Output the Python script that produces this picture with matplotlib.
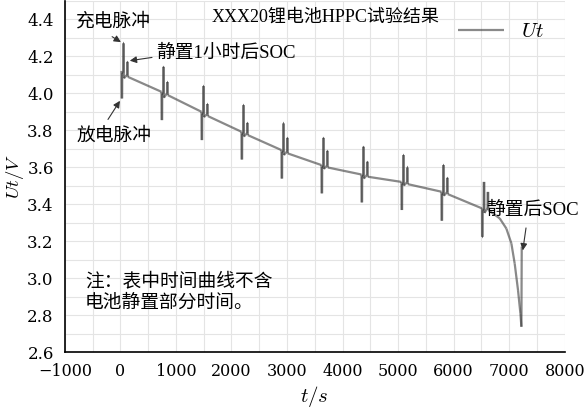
import matplotlib
matplotlib.use('Agg')
import matplotlib.pyplot as plt
from matplotlib.ticker import MultipleLocator
from matplotlib.collections import LineCollection

plt.rcParams['font.family'] = ['Liberation Serif', 'Noto Sans CJK SC', 'DejaVu Sans']
plt.rcParams['mathtext.fontset'] = 'cm'

# pulse start times (s) and voltages
pulse_t = [20, 740, 1460, 2180, 2900, 3620, 4340, 5060, 5780, 6510]
v_in = [4.12, 4.007, 3.899, 3.791, 3.692, 3.611, 3.560, 3.520, 3.467, 3.377]
v_dip = [4.08, 3.975, 3.870, 3.765, 3.665, 3.590, 3.538, 3.500, 3.445, 3.352]
v_dis = [3.971, 3.854, 3.746, 3.641, 3.538, 3.458, 3.409, 3.368, 3.310, 3.223]
v_chg = [4.269, 4.142, 4.038, 3.935, 3.836, 3.758, 3.710, 3.665, 3.611, 3.520]
v_small = [4.169, 4.060, 3.941, 3.839, 3.758, 3.688, 3.629, 3.598, 3.542, 3.466]
v_after = [4.088, 3.989, 3.876, 3.773, 3.674, 3.598, 3.548, 3.508, 3.454, 3.368]

# last discharge to cut-off, then rest
tail_t = [6829, 6949, 7039, 7099, 7159, 7202, 7220, 7226]
tail_v = [3.323, 3.268, 3.188, 3.079, 2.935, 2.809, 2.737, 3.170]

# build the time series
t, v = [], []
for i, tp in enumerate(pulse_t):
    t += [tp, tp + 2, tp + 12, tp + 14, tp + 30, tp + 32, tp + 42, tp + 44,
          tp + 100, tp + 102, tp + 112, tp + 114]
    v += [v_in[i], v_dis[i], v_dis[i], v_in[i] - 0.01, v_in[i] - 0.01, v_chg[i],
          v_chg[i], v_dip[i], v_after[i] + 0.01, v_small[i], v_small[i], v_after[i]]
t += tail_t
v += tail_v

segs = [[(t[k], v[k]), (t[k + 1], v[k + 1])] for k in range(len(t) - 1)]

fig = plt.figure(figsize=(5.84, 4.08), dpi=100)
ax = fig.add_axes([0.111, 0.137, 0.856, 0.8615])

lc = LineCollection(segs, colors='#3a3a3a', alpha=0.6, linewidths=1.6,
                    capstyle='butt', label='$Ut$')
ax.add_collection(lc)

ax.set_xlim(-1000, 8000)
ax.set_ylim(2.6, 4.5)
ax.xaxis.set_major_locator(MultipleLocator(1000))
ax.xaxis.set_minor_locator(MultipleLocator(500))
ax.yaxis.set_minor_locator(MultipleLocator(0.1))
ax.grid(which='both', color='#e4e4e4', lw=0.8)
ax.set_axisbelow(True)
ax.tick_params(which='both', length=0, labelsize=11.5, pad=8)
for lab in ax.get_xticklabels():
    lab.set_fontfamily('DejaVu Serif')
ax.set_yticks([2.6, 2.8, 3.0, 3.2, 3.4, 3.6, 3.8, 4.0, 4.2, 4.4])
ax.set_yticklabels(['2.6', '2.8', '3.0', '3.2', '3.4', '3.6', '3.8', '4.0', '4.2', '4.4'],
                   fontfamily='DejaVu Serif', fontsize=12)
for s in ['top', 'right']:
    ax.spines[s].set_visible(False)
for s in ['left', 'bottom']:
    ax.spines[s].set_linewidth(1.2)

ax.set_xlabel('$t/\\mathit{s}$', fontsize=15, labelpad=3)
ax.set_ylabel('$Ut/V$', fontsize=13.5, labelpad=1)

ax.text(3700, 4.41, 'XXX20锂电池HPPC试验结果', fontsize=13, ha='center', va='center')
ax.legend(loc='upper right', bbox_to_anchor=(0.958, 0.937), frameon=False,
          fontsize=15, handlelength=2.2, borderpad=0, borderaxespad=0)

arrow = dict(arrowstyle='-|>', color='#333333', lw=0.8, mutation_scale=10)
fs = 13.5
ax.text(-119, 4.384, '充电脉冲', fontsize=fs, ha='center', va='center')
ax.annotate('', xy=(52, 4.268), xytext=(-191, 4.313), arrowprops=arrow)
ax.text(654, 4.215, '静置1小时后SOC', fontsize=fs, ha='left', va='center')
ax.annotate('', xy=(120, 4.173), xytext=(619, 4.195), arrowprops=arrow)
ax.text(-119, 3.770, '放电脉冲', fontsize=fs, ha='center', va='center')
ax.annotate('', xy=(20, 3.971), xytext=(-250, 3.845), arrowprops=arrow)
ax.text(6595, 3.368, '静置后SOC', fontsize=fs, ha='left', va='center')
ax.annotate('', xy=(7238, 3.135), xytext=(7310, 3.286), arrowprops=arrow)
ax.text(-641, 2.924, '注：表中时间曲线不含\n电池静置部分时间。', fontsize=fs,
        ha='left', va='center', linespacing=1.3)

fig.savefig('out.png', dpi=100)
